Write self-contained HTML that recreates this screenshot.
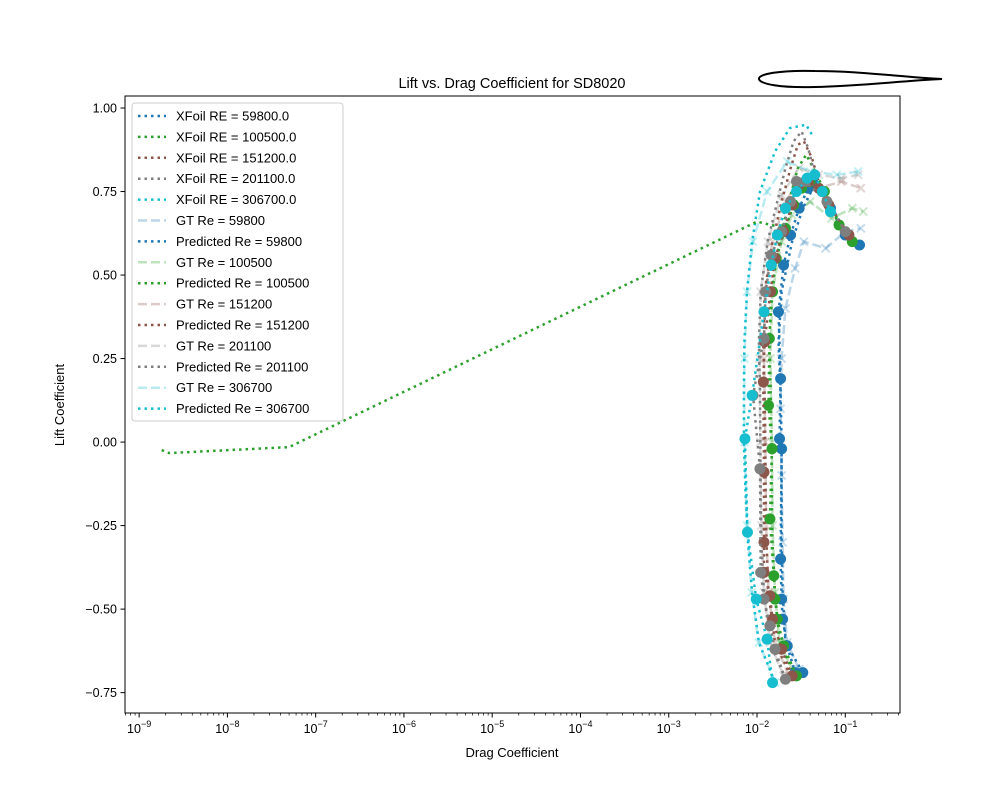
<!DOCTYPE html>
<html><head><meta charset="utf-8">
<style>
body{margin:0;background:#fff;}
svg text{font-family:"Liberation Sans","DejaVu Sans",sans-serif;fill:#000;}
</style></head>
<body>
<svg id="chart" width="1000" height="800" xmlns="http://www.w3.org/2000/svg">
<rect width="1000" height="800" fill="#fff"/>
<text x="512" y="88" font-size="14.5" text-anchor="middle">Lift vs. Drag Coefficient for SD8020</text>
<path d="M942,79 C900,77 860,71 815,71 C780,70 758,74 759,79 C760,84 780,88 815,87 C860,86 900,81 942,79 Z" fill="none" stroke="#000" stroke-width="2"/>
<g id="plot"></g>
<rect x="125" y="96" width="775" height="617" fill="none" stroke="#000" stroke-width="1"/>
<text x="512" y="757" font-size="13" text-anchor="middle">Drag Coefficient</text>
<text transform="translate(64,405) rotate(-90)" font-size="13" text-anchor="middle">Lift Coefficient</text>
<g id="axes"></g>
<g id="legend"></g>
</svg>
<script>
// ---- data ----
const reNames = ["59800","100500","151200","201100","306700"];
const colors = ["#1f77b4","#2ca02c","#8c564b","#7f7f7f","#17becf"];
// XFoil curves
const xfCl59800 = [-0.69,-0.6,-0.45,-0.3,-0.15,0,0.15,0.3,0.45,0.6,0.7,0.77,0.72,0.62,0.59];
const xfCd59800 = [0.033,0.021,0.0195,0.019,0.019,0.019,0.0185,0.0175,0.019,0.025,0.033,0.045,0.065,0.105,0.145];
const xfCl100500 = [-0.70,-0.6,-0.45,-0.3,-0.15,0,0.15,0.3,0.45,0.6,0.72,0.82,0.86,0.80,0.70,0.65];
const xfCd100500 = [0.027,0.018,0.016,0.015,0.0148,0.0146,0.0143,0.0138,0.0145,0.018,0.023,0.029,0.036,0.048,0.07,0.09];
const xfCl151200 = [-0.70,-0.6,-0.45,-0.3,-0.15,0,0.15,0.3,0.45,0.6,0.72,0.82,0.89,0.90,0.85,0.78];
const xfCd151200 = [0.024,0.016,0.0135,0.0128,0.0125,0.0124,0.0122,0.0118,0.0122,0.015,0.019,0.024,0.029,0.034,0.042,0.05];
const xfCl201100 = [-0.71,-0.6,-0.45,-0.3,-0.15,0,0.15,0.3,0.45,0.6,0.72,0.82,0.90,0.93,0.88,0.80];
const xfCd201100 = [0.021,0.014,0.012,0.0112,0.011,0.0109,0.0108,0.0105,0.011,0.0132,0.017,0.021,0.026,0.032,0.038,0.045];
const xfCl306700 = [-0.72,-0.6,-0.45,-0.3,-0.15,0,0.15,0.3,0.45,0.6,0.75,0.87,0.94,0.95,0.92];
const xfCd306700 = [0.016,0.0105,0.0088,0.0079,0.0074,0.0071,0.0071,0.0072,0.0077,0.0088,0.0108,0.016,0.0236,0.036,0.042];
// Ground truth
const gtCl59800 = [-0.68,-0.6,-0.47,-0.3,-0.1,0.1,0.25,0.4,0.52,0.6,0.58,0.63,0.64];
const gtCd59800 = [0.03,0.022,0.02,0.0195,0.019,0.0185,0.019,0.021,0.027,0.034,0.06,0.1,0.15];
const gtCl100500 = [-0.69,-0.6,-0.45,-0.25,0,0.25,0.45,0.6,0.68,0.72,0.67,0.70,0.69];
const gtCd100500 = [0.026,0.018,0.016,0.015,0.0148,0.0142,0.015,0.019,0.025,0.04,0.07,0.12,0.16];
const gtCl151200 = [-0.70,-0.6,-0.45,-0.25,0,0.25,0.45,0.6,0.72,0.78,0.76,0.78,0.76];
const gtCd151200 = [0.023,0.016,0.0135,0.0127,0.0124,0.012,0.0123,0.015,0.021,0.03,0.05,0.09,0.15];
const gtCl201100 = [-0.70,-0.6,-0.45,-0.25,0,0.25,0.45,0.6,0.74,0.82,0.80,0.79,0.80];
const gtCd201100 = [0.02,0.014,0.012,0.0112,0.0109,0.0107,0.011,0.0133,0.019,0.03,0.05,0.09,0.14];
const gtCl306700 = [-0.72,-0.6,-0.45,-0.25,0,0.25,0.45,0.6,0.75,0.84,0.81,0.80,0.81];
const gtCd306700 = [0.016,0.0105,0.0087,0.0077,0.0072,0.0072,0.0077,0.009,0.013,0.022,0.04,0.08,0.14];
// Predicted
const prCl59800 = [-0.69,-0.69,-0.61,-0.53,-0.47,-0.35,-0.02,0.01,0.19,0.39,0.53,0.62,0.70,0.76,0.77,0.75,0.70,0.62,0.59];
const prCd59800 = [0.033,0.027,0.022,0.0195,0.019,0.0185,0.019,0.018,0.0185,0.0175,0.020,0.024,0.030,0.038,0.045,0.055,0.068,0.10,0.145];
const prCl100500 = [-0.70,-0.61,-0.53,-0.47,-0.40,-0.23,-0.02,0.11,0.31,0.45,0.55,0.64,0.71,0.76,0.78,0.75,0.65,0.60];
const prCd100500 = [0.028,0.020,0.017,0.016,0.0155,0.014,0.0148,0.0135,0.0138,0.015,0.0165,0.021,0.026,0.032,0.040,0.058,0.085,0.12];
// outlier branch of the 100500 prediction (no markers drawn)
const prClOut100500 = [-0.024,-0.033,-0.015,0.66,0.64];
const prCdOut100500 = [1.8e-9,2.2e-9,5e-8,0.010,0.021];
const prCl151200 = [-0.70,-0.62,-0.53,-0.46,-0.39,-0.30,-0.09,0.18,0.30,0.45,0.55,0.63,0.71,0.77,0.78,0.76,0.71,0.62];
const prCd151200 = [0.025,0.019,0.015,0.014,0.012,0.012,0.012,0.0118,0.0122,0.0142,0.016,0.02,0.025,0.03,0.038,0.05,0.065,0.11];
const prCl201100 = [-0.71,-0.62,-0.55,-0.47,-0.39,-0.08,0.14,0.31,0.45,0.56,0.63,0.72,0.78,0.78,0.72,0.63];
const prCd201100 = [0.021,0.016,0.014,0.012,0.011,0.0108,0.009,0.012,0.0125,0.0145,0.019,0.024,0.028,0.035,0.062,0.10];
const prCl306700 = [-0.72,-0.59,-0.47,-0.27,0.01,0.14,0.39,0.53,0.62,0.70,0.75,0.79,0.80,0.75,0.69];
const prCd306700 = [0.015,0.013,0.0098,0.0078,0.0073,0.0088,0.012,0.0145,0.017,0.021,0.028,0.037,0.045,0.055,0.068];
const xTickExp = [-9,-8,-7,-6,-5,-4,-3,-2,-1];
const yTicks = [-0.75,-0.5,-0.25,0,0.25,0.5,0.75,1.0];
const yTickLabels = ["−0.75","−0.50","−0.25","0.00","0.25","0.50","0.75","1.00"];
const legendLabels = ["XFoil RE = 59800.0","XFoil RE = 100500.0","XFoil RE = 151200.0","XFoil RE = 201100.0","XFoil RE = 306700.0",
 "GT Re = 59800","Predicted Re = 59800","GT Re = 100500","Predicted Re = 100500","GT Re = 151200","Predicted Re = 151200",
 "GT Re = 201100","Predicted Re = 201100","GT Re = 306700","Predicted Re = 306700"];

// ---- axes ----
const X0=125,X1=900,Y0=96,Y1=713;
const lmin=-9.16,lmax=-0.38, ymin=-0.811, ymax=1.036;
const sx = v => X0 + (Math.log10(v)-lmin)/(lmax-lmin)*(X1-X0);
const sy = v => Y1 - (v-ymin)/(ymax-ymin)*(Y1-Y0);
const NS="http://www.w3.org/2000/svg";
function mk(tag, attrs, parent){const e=document.createElementNS(NS,tag);for(const k in attrs)e.setAttribute(k,attrs[k]);parent.appendChild(e);return e;}
const axes=document.getElementById('axes'), plot=document.getElementById('plot'), legend=document.getElementById('legend');

xTickExp.forEach(p=>{
  const x=sx(Math.pow(10,p));
  const t=mk('line',{x1:x,x2:x,y1:Y1,y2:Y1+4.5,stroke:'#000'},axes);
  
  
  const lb=mk('text',{x:x,y:Y1+20,'font-size':'12.5','text-anchor':'middle'},axes);
  
  
  lb.innerHTML='10<tspan dy="-6" font-size="9">'+(p<0?'−':'')+Math.abs(p)+'</tspan>';
});
for(let p=-10;p<0;p++){for(let m=2;m<10;m++){const v=m*Math.pow(10,p);const lv=Math.log10(v);if(lv<lmin||lv>lmax)continue;const x=sx(v);
  const t=mk('line',{x1:x,x2:x,y1:Y1,y2:Y1+2.5,stroke:'#000','stroke-width':0.7},axes);
  
  }}
yTicks.forEach((v,i)=>{
  const y=sy(v);
  const t=mk('line',{x1:X0-4.5,x2:X0,y1:y,y2:y,stroke:'#000'},axes);
  
  
  const lb=mk('text',{x:X0-8,y:y+4.5,'font-size':'12.5','text-anchor':'end'},axes);
  
  
  lb.textContent=yTickLabels[i];
});

// ---- series ----
const xf=[[xfCd59800,xfCl59800],[xfCd100500,xfCl100500],[xfCd151200,xfCl151200],[xfCd201100,xfCl201100],[xfCd306700,xfCl306700]];
const gt=[[gtCd59800,gtCl59800],[gtCd100500,gtCl100500],[gtCd151200,gtCl151200],[gtCd201100,gtCl201100],[gtCd306700,gtCl306700]];
const pr=[[prCd59800,prCl59800],[prCd100500,prCl100500],[prCd151200,prCl151200],[prCd201100,prCl201100],[prCd306700,prCl306700]];
const pts=(cd,cl)=>cd.map((c,i)=>sx(c).toFixed(1)+','+sy(cl[i]).toFixed(1)).join(' ');
// GT
gt.forEach((s,i)=>{
  const l=mk('polyline',{points:pts(s[0],s[1]),fill:'none',stroke:colors[i],'stroke-opacity':0.3,'stroke-width':2.5,'stroke-dasharray':'9,4'},plot);
  
  
  s[0].forEach((c,j)=>{const x=sx(c),y=sy(s[1][j]);
    const m=mk('path',{d:`M${x-4},${y-4}L${x+4},${y+4}M${x-4},${y+4}L${x+4},${y-4}`,stroke:colors[i],'stroke-opacity':0.25,'stroke-width':2},plot);
    
    });
});
// XFoil
xf.forEach((s,i)=>{
  const l=mk('polyline',{points:pts(s[0],s[1]),fill:'none',stroke:colors[i],'stroke-width':2.5,'stroke-dasharray':'2.5,4'},plot);
  
  
});
// Predicted outlier branch
const ob=mk('polyline',{points:pts(prCdOut100500,prClOut100500),fill:'none',stroke:colors[1],'stroke-width':2.5,'stroke-dasharray':'2.5,4'},plot);


// Predicted
pr.forEach((s,i)=>{
  const l=mk('polyline',{points:pts(s[0],s[1]),fill:'none',stroke:colors[i],'stroke-width':2.5,'stroke-dasharray':'2.5,4'},plot);
  
  
  s[0].forEach((c,j)=>{
    const m=mk('circle',{cx:sx(c),cy:sy(s[1][j]),r:5.5,fill:colors[i]},plot);
    
    });
});

// ---- legend ----
const lb=mk('rect',{x:132,y:103,width:211,height:318,rx:3,fill:'#fff','fill-opacity':0.8,stroke:'#ccc'},legend);


const legColor=[0,1,2,3,4,0,0,1,1,2,2,3,3,4,4];
legendLabels.forEach((t,i)=>{
  const y=116+i*20.9;
  const isGT=t.startsWith('GT');
  const g=mk('g',{},legend);
  
  
  mk('line',{x1:138,x2:166,y1:y,y2:y,stroke:colors[legColor[i]],'stroke-width':2.5,'stroke-opacity':isGT?0.3:1,'stroke-dasharray':isGT?'9,4':'2.5,4'},g);
  const tx=mk('text',{x:176,y:y+4.5,'font-size':'13'},g);
  tx.textContent=t;
});
</script>
</body></html>
